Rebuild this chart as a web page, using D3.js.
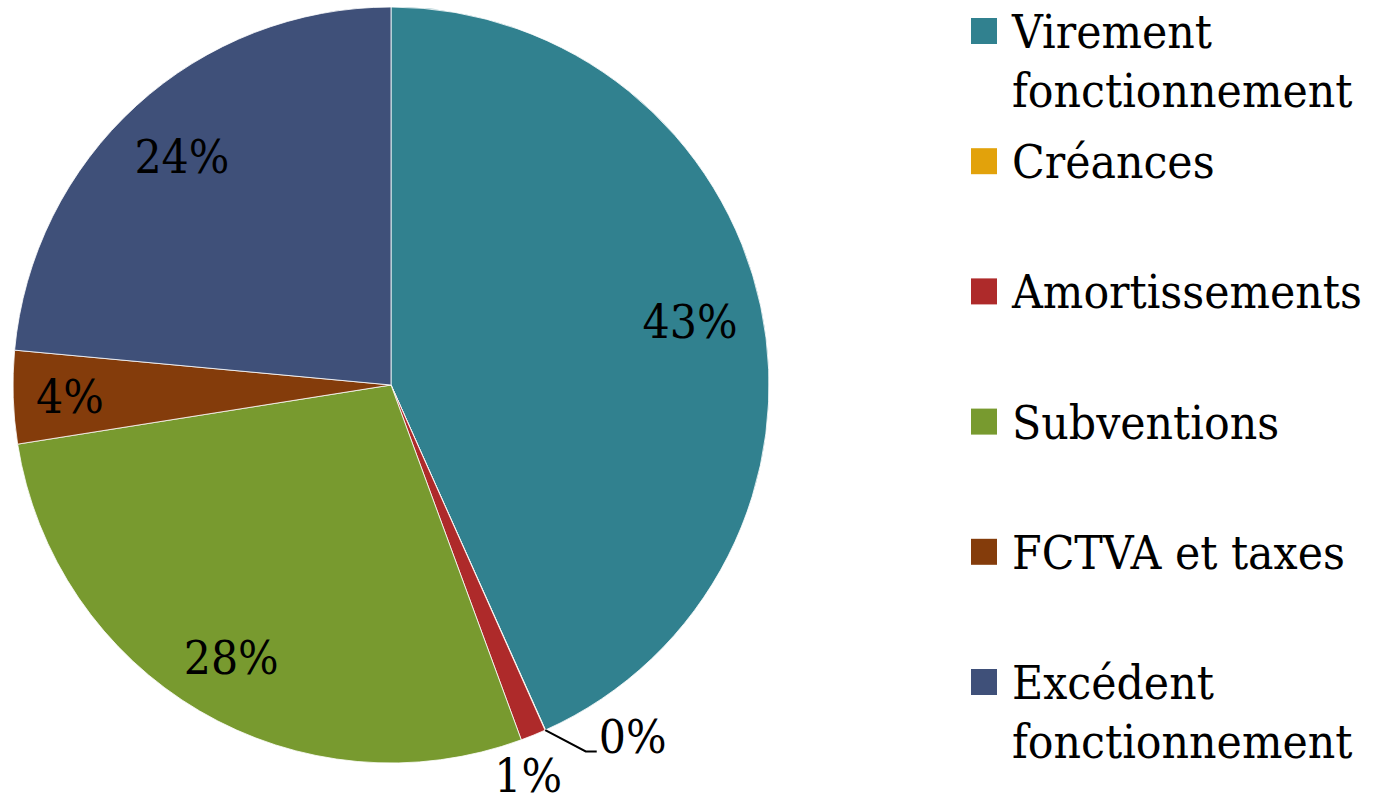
<!DOCTYPE html>
<html>
<head>
<meta charset="utf-8">
<script src="https://cdn.jsdelivr.net/npm/d3@7"></script>
<style>
  body { margin: 0; background: #fff; }
  text { font-family: "DejaVu Serif", serif; font-stretch: condensed; fill: #000; }
</style>
</head>
<body>
<div id="chart"></div>
<script>
const categories = ["Virement fonctionnement", "Créances", "Amortissements", "Subventions", "FCTVA et taxes", "Excédent fonctionnement"];
const values = [43.3, 0.02, 1.08, 28.1, 3.97, 23.53];
const colors = ["#31818f", "#e2a20b", "#ae2a2a", "#789a2f", "#843c0b", "#3f5079"];

const width = 1380, height = 799;
const cx = 391, cy = 385, radius = 378;
const fontSize = 47.5;
const capH = fontSize * 0.73;

const svg = d3.select("#chart").append("svg")
  .attr("width", width)
  .attr("height", height);

const total = d3.sum(values);
const pct = v => Math.round(v / total * 100) + "%";

const pie = d3.pie().sort(null).value(d => d)(values);
const arc = d3.arc().innerRadius(0).outerRadius(radius);

const g = svg.append("g").attr("transform", `translate(${cx},${cy})`);

g.selectAll("path")
  .data(pie)
  .enter()
  .append("path")
  .attr("d", arc)
  .attr("fill", (d, i) => colors[i])
  .attr("stroke", "#fff")
  .attr("stroke-width", 0.8);

const mid = d => (d.startAngle + d.endAngle) / 2;
const pt = (a, r) => [r * Math.sin(a), -r * Math.cos(a)];

// inside labels: push box out until its far corner reaches the inner ring
const inner = radius - 22;
pie.forEach((d, i) => {
  if (values[i] / total < 0.02) return;
  const t = g.append("text")
    .attr("text-anchor", "middle")
    .style("font-size", fontSize + "px")
    .text(pct(values[i]));
  const w = t.node().getComputedTextLength();
  const a = mid(d);
  let lo = 0, hi = radius;
  for (let k = 0; k < 40; k++) {
    const r = (lo + hi) / 2;
    const [px, py] = pt(a, r);
    let far = 0;
    [-1, 1].forEach(sx => [-1, 1].forEach(sy => {
      far = Math.max(far, Math.hypot(px + sx * w / 2, py + sy * capH / 2));
    }));
    if (far > inner) hi = r; else lo = r;
  }
  const [px, py] = pt(a, lo);
  t.attr("x", px).attr("y", py + capH / 2);
});

// outside labels for tiny slices, nudged apart
const small = pie.filter((d, i) => values[i] / total < 0.02);
const nudge = [-3.9, 2.8];
const outR = radius + 37;
small.forEach((d, j) => {
  const i = d.index;
  const a = mid(d) + nudge[j] * Math.PI / 180;
  const [ex, ey] = pt(a, outR);
  if (values[i] / total < 0.005) {
    const [sx, sy] = pt(mid(d), radius);
    g.append("polyline")
      .attr("points", [[sx, sy], [ex, ey], [ex + 11, ey]].join(" "))
      .attr("fill", "none")
      .attr("stroke", "#000")
      .attr("stroke-width", 2);
    g.append("text")
      .attr("x", ex + 13)
      .attr("y", ey + 2)
      .style("font-size", fontSize + "px")
      .text(pct(values[i]));
  } else {
    g.append("text")
      .attr("x", ex)
      .attr("y", ey + capH / 2 - 2)
      .attr("text-anchor", "middle")
      .style("font-size", fontSize + "px")
      .text(pct(values[i]));
  }
});

// legend
const legX = 971, legY = 18, step = 130.2, sq = 26, lineH = 59;
const maxW = width - (legX + 41) - 4;
const legend = svg.append("g");
categories.forEach((c, i) => {
  const y0 = legY + i * step;
  legend.append("rect")
    .attr("x", legX).attr("y", y0)
    .attr("width", sq).attr("height", sq)
    .attr("fill", colors[i]);
  const t = legend.append("text")
    .attr("x", legX + 41)
    .attr("y", y0 + sq / 2 + 17)
    .style("font-size", fontSize + "px");
  // simple word wrap
  const words = c.split(" ");
  let line = [];
  let ts = t.append("tspan").attr("x", legX + 41).attr("dy", 0);
  words.forEach(wd => {
    line.push(wd);
    ts.text(line.join(" "));
    if (ts.node().getComputedTextLength() > maxW && line.length > 1) {
      line.pop();
      ts.text(line.join(" "));
      line = [wd];
      ts = t.append("tspan").attr("x", legX + 41).attr("dy", lineH).text(wd);
    }
  });
});
</script>
</body>
</html>
